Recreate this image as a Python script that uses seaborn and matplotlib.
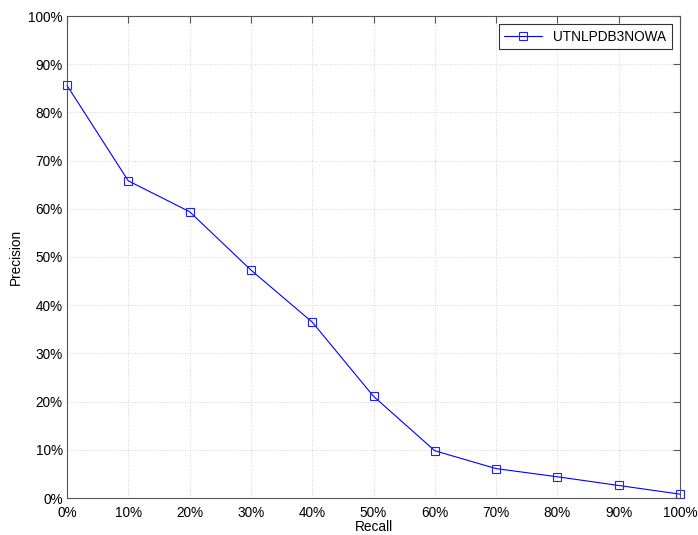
import matplotlib
matplotlib.use("Agg")
import matplotlib.pyplot as plt
import seaborn as sns
import pandas as pd
from matplotlib.ticker import FuncFormatter, MultipleLocator

recall = [0, 10, 20, 30, 40, 50, 60, 70, 80, 90, 100]
precision = [85.6, 65.8, 59.4, 47.3, 36.5, 21.1, 9.8, 6.1, 4.4, 2.6, 0.8]
series_name = "UTNLPDB3NOWA"

FS = 9.8
sns.set_style("white")
plt.rcParams['font.family'] = ['Liberation Sans', 'DejaVu Sans']
plt.rcParams['font.size'] = FS
plt.rcParams['text.color'] = 'black'
plt.rcParams['axes.labelcolor'] = 'black'
plt.rcParams['xtick.color'] = 'black'
plt.rcParams['ytick.color'] = 'black'

df = pd.DataFrame({"Recall": recall, "Precision": precision, "run": series_name})

fig = plt.figure(figsize=(6.98, 5.35), dpi=100)
ax = fig.add_axes([67/698, 1-498/535, (680-67)/698, (498-16)/535])
sns.lineplot(data=df, x="Recall", y="Precision", hue="run", palette=["#0000ff"],
             marker="s", markersize=6.2, linewidth=0.8, ax=ax)
for ln in ax.lines:
    ln.set_markerfacecolor("none")
    ln.set_markeredgecolor("#2020ff")
    ln.set_markeredgewidth(0.8)
    ln.set_clip_on(False)

ax.set_xlim(0, 100)
ax.set_ylim(0, 100)
ax.xaxis.set_major_locator(MultipleLocator(10))
ax.yaxis.set_major_locator(MultipleLocator(10))
fmt = FuncFormatter(lambda v, p: f"{int(round(v))}%")
ax.xaxis.set_major_formatter(fmt)
ax.yaxis.set_major_formatter(fmt)
ax.grid(True, linestyle=(0, (1, 2)), color="#c8c8c8", linewidth=0.6)
ax.tick_params(direction="in", length=5, width=0.8, color="#555555",
               labelcolor="black", top=True, right=True, labelsize=FS, pad=3)
ax.tick_params(axis="x", pad=6)
for s in ax.spines.values():
    s.set_color("#555555")
    s.set_linewidth(0.8)
ax.set_xlabel("Recall", fontsize=FS, labelpad=0, color="black")
ax.set_ylabel("Precision", fontsize=FS, labelpad=4, color="black")

leg = ax.legend(loc="upper right", fancybox=False, framealpha=1, edgecolor="#333333",
                fontsize=FS, borderaxespad=0.6, handlelength=2.8, borderpad=0.4)
leg.get_frame().set_linewidth(0.8)
for h in leg.get_lines():
    h.set_markerfacecolor("none")
    h.set_markeredgecolor("#2020ff")
    h.set_markeredgewidth(0.8)
    h.set_markersize(6)

fig.savefig("out.png", dpi=100)
